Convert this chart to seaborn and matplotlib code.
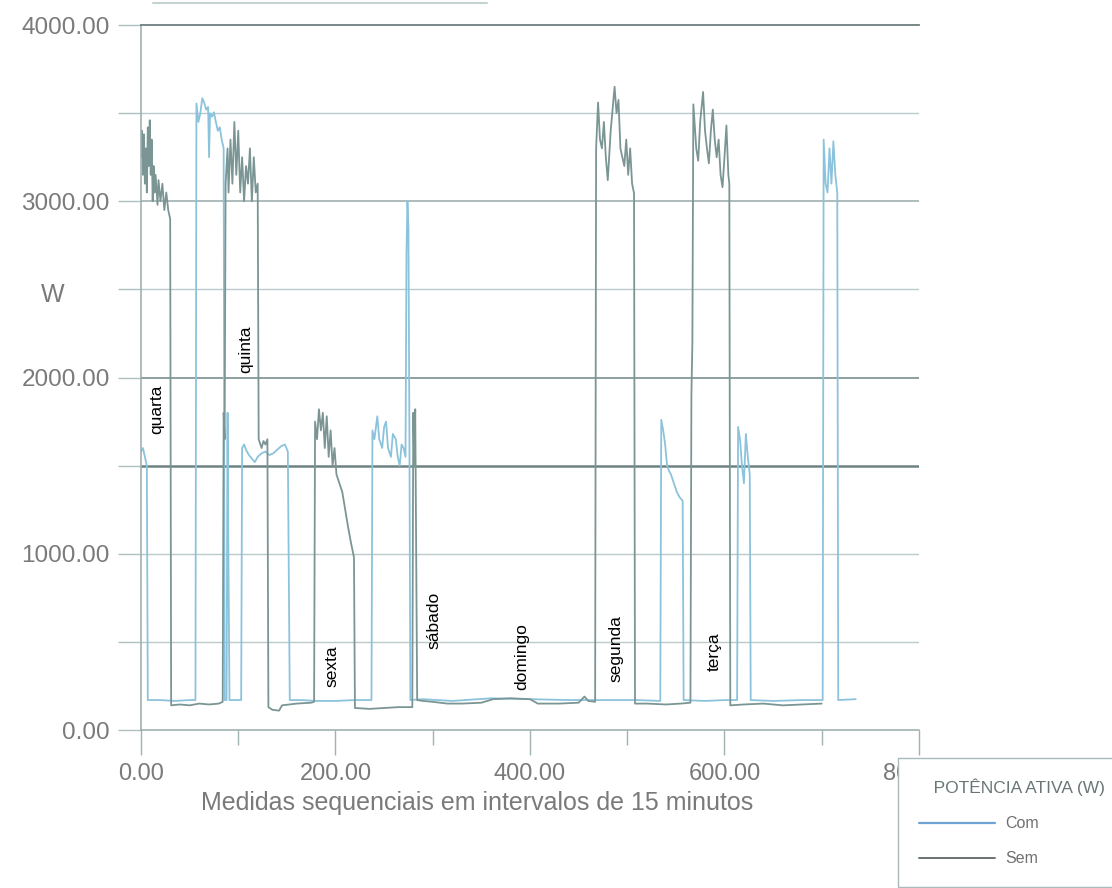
import pandas as pd
import matplotlib.pyplot as plt
import seaborn as sns
from matplotlib.lines import Line2D
from matplotlib.ticker import MultipleLocator, FormatStrFormatter

# Potencia ativa (W), medidas sequenciais de 15 minutos
com_x = [0, 2, 4, 6, 7, 20, 35, 50, 56,
         57, 59, 61, 63, 65, 67, 69, 70, 71, 73, 75, 77, 79, 81, 83, 85, 86, 88, 89, 90, 91, 103,
         104, 106, 108, 111, 114, 117, 120, 124, 128, 132, 136, 140, 144, 148, 151, 153,
         165, 180, 200, 220, 237,
         238, 240, 243, 245, 248, 250, 252, 254, 257, 259, 262, 264, 266, 268, 270, 272, 273, 274, 275, 276, 277,
         290, 320, 360, 400, 440, 480, 510, 534,
         535, 537, 539, 541, 543, 545, 548, 551, 554, 557, 558, 580, 600, 613,
         614, 616, 618, 620, 622, 624, 626, 627, 650, 680, 701,
         702, 704, 706, 708, 710, 712, 714, 716, 717, 735]
com_w = [1580, 1600, 1550, 1500, 170, 170, 165, 170, 170,
         3555, 3450, 3500, 3585, 3560, 3520, 3535, 3250, 3500, 3480, 3505, 3450, 3400, 3420, 3350, 3300, 170, 170, 1800, 900, 170, 170,
         1600, 1620, 1590, 1560, 1540, 1520, 1550, 1570, 1580, 1560, 1570, 1590, 1610, 1620, 1580, 170,
         170, 165, 165, 170, 170,
         1700, 1650, 1780, 1650, 1600, 1720, 1750, 1600, 1550, 1680, 1650, 1550, 1500, 1620, 1600, 1550, 2700, 3000, 2850, 1700, 170,
         175, 165, 180, 175, 170, 170, 170, 165,
         1760, 1700, 1620, 1500, 1470, 1450, 1400, 1350, 1320, 1300, 170, 165, 170, 170,
         1720, 1650, 1500, 1400, 1680, 1550, 1450, 170, 165, 170, 170,
         3350, 3100, 3050, 3300, 3100, 3340, 3150, 3050, 170, 175]

sem_x = [0, 1, 2, 3, 4, 5, 6, 7, 8, 9, 10, 11, 12, 13, 14, 15, 17, 18, 20, 22, 24, 26, 28, 30, 31,
         40, 50, 60, 70, 80, 84,
         85, 86, 87, 89, 90, 92, 94, 96, 98, 100, 102, 104, 106, 108, 110, 112, 114, 116, 118, 120,
         121, 124, 126, 128, 130, 131,
         135, 142, 145, 160, 175, 178,
         179, 181, 183, 185, 187, 189, 191, 193, 195, 197, 199, 201, 204, 207, 210, 213, 216, 219, 220,
         235, 250, 265, 279,
         280, 281, 282, 283, 284, 290, 300, 315,
         330, 350, 362, 380, 400, 408, 430, 450, 456, 460, 467,
         468, 470, 472, 474, 476, 478, 480, 483, 487, 489, 491, 493, 495, 497, 499, 501, 503, 505, 507, 508,
         520, 540, 555, 565,
         566, 567, 568, 571, 573, 575, 578, 580, 582, 584, 586, 588, 590, 592, 594, 596, 598, 600, 602, 604, 605, 606,
         620, 640, 660, 680, 700]
sem_w = [3250, 3400, 3150, 3380, 3100, 3300, 3050, 3420, 3200, 3460, 3150, 3350, 3000, 3200, 3050, 3150, 2980, 3120, 3000, 3100, 2950, 3050, 2950, 2900, 140,
         145, 140, 150, 145, 150, 160,
         1800, 1650, 3100, 3300, 3050, 3350, 3100, 3450, 3150, 3400, 3050, 3250, 3000, 3200, 3100, 3300, 3000, 3250, 3050, 3100,
         1650, 1600, 1640, 1620, 1650, 130,
         115, 110, 140, 150, 155, 160,
         1750, 1650, 1820, 1700, 1800, 1600, 1780, 1550, 1700, 1500, 1600, 1450, 1400, 1350, 1250, 1150, 1060, 980, 125,
         120, 125, 130, 130,
         1800, 1500, 1820, 1000, 170, 165, 160, 150,
         150, 155, 175, 180, 175, 150, 150, 155, 190, 165, 160,
         3300, 3560, 3350, 3300, 3450, 3250, 3120, 3400, 3650, 3500, 3575, 3300, 3250, 3200, 3350, 3150, 3300, 3100, 3045, 150,
         150, 145, 150, 155,
         1900, 2200, 3550, 3300, 3230, 3450, 3620, 3400, 3300, 3215, 3400, 3520, 3350, 3250, 3350, 3150, 3080, 3250, 3430, 3150, 3100, 140,
         145, 150, 140, 145, 150]

dias = ['quarta', 'quinta', 'sexta', 'sábado', 'domingo', 'segunda', 'terça']
dias_x = [16, 108, 196, 301, 392, 488, 589]
dias_w = [1820, 2160, 360, 620, 415, 465, 445]

df = pd.concat([
    pd.DataFrame({'medida': com_x, 'potencia': com_w, 'serie': 'Com'}),
    pd.DataFrame({'medida': sem_x, 'potencia': sem_w, 'serie': 'Sem'}),
], ignore_index=True)

sns.set_theme(style='white')
plt.rcParams['font.family'] = ['Liberation Sans', 'DejaVu Sans']

cores = {'Com': '#8cc3dc', 'Sem': '#7b9594'}
cinza = '#7a7a7a'

fig = plt.figure(figsize=(11.12, 8.88), dpi=100)
ax = fig.add_axes([0.1268, 0.1779, 0.6996, 0.7939])

# linhas de grade horizontais (a de 1500 W mais escura)
for v in [500, 1000, 2500, 3500]:
    ax.axhline(v, color='#bccaca', lw=1, zorder=1)
ax.axhline(3000, color='#98aaaa', lw=1.1, zorder=1)
ax.axhline(2000, color='#849898', lw=1.3, zorder=1)
ax.axhline(1500, color='#6f8282', lw=1.8, zorder=1)

sns.lineplot(data=df, x='medida', y='potencia', hue='serie', palette=cores,
             estimator=None, sort=False, lw=1.3, legend=False, ax=ax)

for dia, x, w in zip(dias, dias_x, dias_w):
    ax.text(x, w, dia, rotation=90, ha='center', va='center', fontsize=12.5, color='black')

ax.set_xlim(0, 800)
ax.set_ylim(0, 4000)
ax.xaxis.set_major_locator(MultipleLocator(200))
ax.xaxis.set_minor_locator(MultipleLocator(100))
ax.yaxis.set_major_locator(MultipleLocator(1000))
ax.yaxis.set_minor_locator(MultipleLocator(500))
ax.xaxis.set_major_formatter(FormatStrFormatter('%.2f'))
ax.yaxis.set_major_formatter(FormatStrFormatter('%.2f'))

ax.tick_params(axis='y', which='both', direction='out', left=True, length=16.5, width=1,
               color='#b0c0c0', pad=6, labelsize=17.5, labelcolor=cinza)
ax.tick_params(axis='x', which='major', direction='out', bottom=True, length=18, width=1,
               color='#a0b2b2', pad=6, labelsize=17, labelcolor=cinza)
ax.tick_params(axis='x', which='minor', direction='out', bottom=True, length=11, width=1,
               color='#a0b2b2')

ax.spines['right'].set_visible(False)
ax.spines['top'].set_color('#6e8080')
ax.spines['top'].set_linewidth(1.3)
for s in ['left', 'bottom']:
    ax.spines[s].set_color('#9aabab')
    ax.spines[s].set_linewidth(1.1)

ax.set_xlabel('Medidas sequenciais em intervalos de 15 minutos', fontsize=18, color=cinza, va='center')
ax.xaxis.set_label_coords(0.432, -0.1035)
ax.set_ylabel('W', rotation=0, fontsize=18, color=cinza, ha='center', va='center')
ax.yaxis.set_label_coords(-0.113, 0.617)

handles = [Line2D([], [], color='#6fa3d6', lw=1.6), Line2D([], [], color='#6b7373', lw=1.4)]
leg = fig.legend(handles, ['Com', 'Sem'], title='   POTÊNCIA ATIVA (W)', loc='upper left',
                 bbox_to_anchor=(0.8076, 0.1464), borderaxespad=0, alignment='left',
                 frameon=True, fancybox=False, edgecolor='#a8baba', framealpha=1,
                 fontsize=11.5, title_fontsize=12.5, handlelength=4.8, handletextpad=0.6,
                 labelspacing=1.25, borderpad=1.3)
leg.get_frame().set_linewidth(1)
leg.get_title().set_color('#6a7676')
for t in leg.get_texts():
    t.set_color('#707070')

# borda clara no topo do scan
fig.add_artist(Line2D([0.138, 0.438], [0.997, 0.997], color='#c5d3d3', lw=1.5))

fig.savefig('out.png', dpi=100)
